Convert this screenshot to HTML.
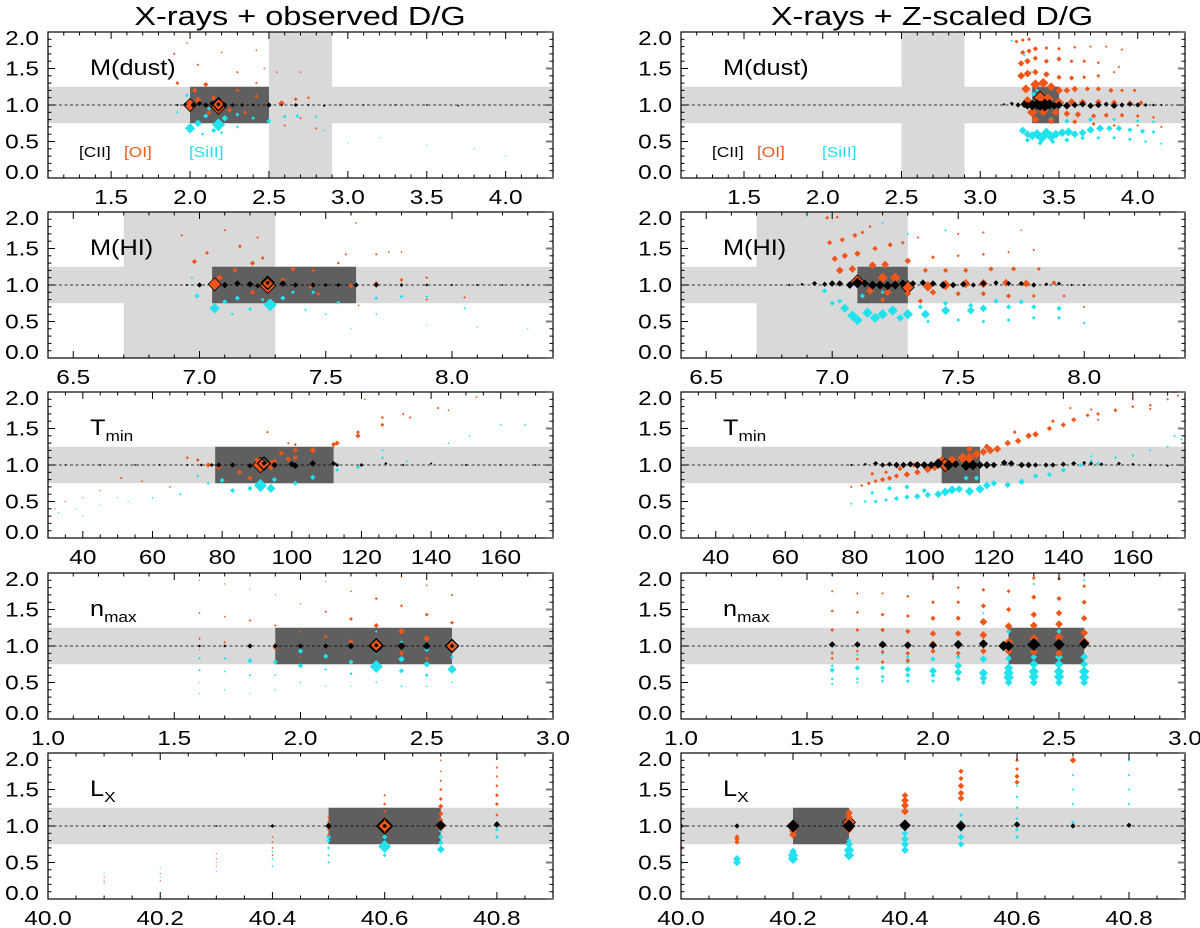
<!DOCTYPE html>
<html><head><meta charset="utf-8"><style>
html,body{margin:0;padding:0;background:#fff;}
svg{display:block;font-family:"Liberation Sans",Arial,sans-serif;}
</style></head><body>
<svg id="fig" width="1200" height="928" viewBox="0 0 1200 928" xmlns="http://www.w3.org/2000/svg">
<rect width="1200" height="928" fill="#fff"/>
</svg>
<script>
// ---------------- DATA ----------------
// each point: [x, ratio, markerSize]
const L1_cii=[[1.92,1.0,1],[1.97,1.01,1.5],[2.02,1.0,2],[2.06,1.02,2],[2.1,1.0,2],[2.14,1.02,2],[2.18,1.01,5],[2.22,1.0,2],[2.27,1.0,1.5],[2.33,1.0,1.5],[2.4,1.0,1.2],[2.5,1.0,2],[2.58,1.0,1],[2.67,1.0,1.5],[2.75,1.0,1],[2.85,0.99,1],[2.95,1.0,0.8],[3.1,1.0,0.8],[3.3,1.0,0.8],[3.5,1.0,0.8],[3.7,0.99,0.8]];
const L1_oi=[[2.0,1.0,5],[2.18,0.98,6],[1.92,1.3,1.5],[2.03,1.2,2],[2.05,1.07,2.5],[2.1,1.28,2],[2.12,0.9,2],[2.15,1.1,2],[2.2,1.05,2],[2.25,0.93,2],[2.3,1.2,1.5],[2.35,0.9,1.5],[2.42,1.12,1.5],[2.5,1.0,2],[2.58,1.02,2.5],[2.67,1.08,1.5],[2.75,1.1,1.2],[2.6,0.72,1],[2.7,0.82,1],[2.8,0.68,1],[1.9,1.7,1],[1.98,1.85,0.8],[2.05,1.55,1],[2.2,1.72,0.8],[2.3,1.45,1],[2.42,1.75,0.8],[2.42,1.3,1],[2.55,1.45,0.8],[2.7,1.45,0.8],[2.47,1.5,0.8]];
const L1_siii=[[2.0,0.68,4],[2.05,0.75,3],[2.18,0.73,5],[2.1,0.85,2],[2.15,0.65,2],[2.22,0.82,2.5],[2.3,0.87,1.5],[2.4,0.82,1.5],[2.5,0.78,2],[2.6,0.84,1.5],[2.68,0.85,1.5],[2.8,0.84,1.2],[1.98,1.13,1.5],[2.08,0.6,1.2],[2.2,0.62,1.2],[2.3,0.7,1.2],[2.12,0.95,1.5],[1.92,0.9,1],[2.85,0.65,0.8],[3.2,0.55,0.6],[3.5,0.45,0.6],[3.8,0.4,0.6],[4.0,0.3,0.6],[3.0,0.48,0.6]];

const R1_cii=[[3.15,1.01,1],[3.2,1.02,1.5],[3.24,1.0,2],[3.28,1.01,3],[3.3,0.99,3],[3.33,1.0,4],[3.36,1.01,4],[3.38,0.99,4],[3.41,1.0,5],[3.44,1.01,4],[3.47,0.99,3],[3.5,1.0,3],[3.55,0.99,3],[3.6,1.0,2.5],[3.65,1.01,2.5],[3.7,0.99,2.5],[3.75,1.0,2.5],[3.8,1.01,2],[3.85,0.99,2.5],[3.9,1.0,2],[3.95,1.01,2],[4.0,1.0,2],[4.05,1.0,1.5],[4.1,1.0,1.2],[4.15,1.0,1]];
const R1_oi=[[3.23,1.87,1.5],[3.27,1.89,1.5],[3.31,1.9,1.5],[3.27,1.72,2],[3.31,1.74,2],[3.35,1.77,2],[3.42,1.78,1.5],[3.5,1.77,1.5],[3.6,1.79,1.2],[3.7,1.8,1],[3.8,1.8,1],[3.9,1.76,1],[3.26,1.57,2.5],[3.3,1.6,2.5],[3.35,1.64,2],[3.42,1.6,2],[3.5,1.63,2],[3.58,1.6,1.5],[3.66,1.6,1.5],[3.75,1.58,1.2],[3.88,1.52,1],[3.26,1.4,3],[3.3,1.43,3],[3.35,1.45,2.5],[3.42,1.42,2.5],[3.5,1.38,2],[3.58,1.37,2],[3.66,1.38,1.5],[3.75,1.4,1.5],[3.85,1.45,1],[3.29,1.22,3.5],[3.35,1.28,4],[3.4,1.3,4],[3.45,1.25,3.5],[3.5,1.2,3],[3.55,1.2,2.5],[3.6,1.22,2.5],[3.68,1.22,2],[3.75,1.22,2],[3.83,1.2,2],[3.9,1.2,1.5],[3.98,1.2,1.5],[3.3,1.05,4],[3.38,1.1,5],[3.43,1.08,4.5],[3.5,1.03,4],[3.58,1.04,3],[3.65,1.03,3],[3.75,1.04,2.5],[3.85,1.03,2.5],[3.95,1.02,2.5],[4.02,1.03,2],[3.33,0.9,4],[3.4,0.92,4],[3.48,0.9,3],[3.55,0.88,2.5],[3.62,0.87,2.5],[3.72,0.85,2],[3.8,0.86,2],[3.9,0.86,1.8],[4.0,0.85,1.5],[4.1,0.83,1.2],[3.35,0.8,3],[3.45,0.78,2.5],[3.6,0.77,2],[3.72,0.74,1.5],[3.85,0.72,1.2],[4.0,0.72,1],[4.15,0.7,1]];
const R1_siii=[[3.2,1.88,1],[3.28,1.68,1],[3.32,1.45,1],[3.34,1.15,2],[3.36,1.2,1.5],[3.27,0.65,3],[3.3,0.6,3],[3.33,0.58,3.5],[3.36,0.6,4],[3.39,0.55,4],[3.42,0.62,4],[3.45,0.57,4],[3.48,0.6,3.5],[3.52,0.62,3.5],[3.56,0.63,3.5],[3.6,0.6,3],[3.65,0.62,3],[3.7,0.66,3],[3.76,0.68,3],[3.82,0.68,2.5],[3.88,0.68,2.5],[3.95,0.66,2],[4.03,0.64,2],[4.1,0.63,1.5],[3.3,0.52,2],[3.38,0.48,2],[3.46,0.5,2],[3.55,0.52,2],[3.65,0.55,1.8],[3.75,0.55,1.5],[3.85,0.55,1.5],[3.95,0.53,1.5],[4.05,0.5,1.2],[4.15,0.47,1],[3.45,0.8,2],[3.55,0.78,2],[3.7,0.8,2],[3.85,0.8,1.5],[4.0,0.78,1.5],[4.1,0.77,1.2]];

const L2_cii=[[6.95,1.0,1],[7.0,1.0,2],[7.1,1.0,2.5],[7.15,1.02,2.5],[7.2,1.01,2.5],[7.23,0.99,2],[7.27,1.03,5],[7.33,1.02,2.5],[7.38,1.0,2],[7.45,1.0,2],[7.5,1.0,1.5],[7.55,1.0,1.5],[7.62,1.0,2],[7.7,1.0,2],[7.8,1.0,1.5],[7.9,1.0,1.2],[8.0,1.0,1],[8.1,1.0,1],[8.2,1.0,0.8],[8.3,1.0,0.8]];
const L2_oi=[[7.06,1.01,5],[7.27,0.99,6],[6.93,1.68,1],[6.98,1.32,2],[7.03,1.44,1.5],[7.08,1.1,2.5],[7.1,1.75,1],[7.14,1.2,2],[7.16,1.53,1.5],[7.21,1.3,2],[7.23,1.65,1],[7.25,1.37,1.5],[7.21,0.9,2],[7.33,1.07,2],[7.37,1.22,2],[7.44,0.97,1.5],[7.45,1.2,1.5],[7.47,0.88,1.5],[7.55,1.3,1.2],[7.58,1.42,1],[7.6,0.99,2],[7.7,1.02,2],[7.7,1.42,1],[7.8,1.07,1.5],[7.9,1.1,1.2],[7.75,1.45,0.8],[7.62,1.85,0.8],[7.8,1.45,0.8],[8.05,0.83,1],[7.9,0.8,1],[7.63,0.72,0.8]];
const L2_siii=[[7.06,0.68,4],[7.28,0.73,5],[6.99,0.85,2],[7.1,0.77,2],[7.15,0.82,2],[7.2,0.67,1.5],[7.13,0.6,1.2],[7.25,0.8,1.5],[7.33,0.82,2],[7.37,0.9,1.5],[7.45,0.9,1.5],[7.55,0.76,1.5],[7.62,1.02,1.5],[7.7,0.82,1.5],[7.8,0.84,1.5],[7.9,0.84,1.2],[8.05,0.68,1],[6.97,1.1,1],[7.42,0.66,1],[7.5,0.6,0.8],[7.7,0.6,0.8],[7.9,0.45,0.6],[8.1,0.42,0.6],[8.3,0.4,0.6],[7.6,0.4,0.6]];

const R2_cii=[[6.83,1.0,1],[6.88,1.01,1.2],[6.93,1.02,2],[6.97,1.01,2],[7.0,1.02,2.5],[7.03,1.02,2.5],[7.07,1.0,3],[7.1,1.03,4],[7.13,1.02,3],[7.16,1.0,3.5],[7.19,1.0,3.5],[7.22,0.99,3.5],[7.25,1.0,3.5],[7.28,1.02,3],[7.32,1.02,2.5],[7.36,1.03,2.5],[7.4,1.02,2.5],[7.44,1.0,3],[7.48,1.0,2.5],[7.52,1.01,2.5],[7.56,1.0,2],[7.6,1.02,2.5],[7.65,1.03,2],[7.7,1.02,2],[7.75,1.02,2],[7.8,1.0,2],[7.85,1.01,1.5],[7.9,1.02,1.5],[7.95,1.0,1],[8.0,1.0,1]];
const R2_oi=[[7.1,1.05,5],[7.2,1.1,4],[7.25,1.1,4],[7.3,0.97,5],[7.38,0.98,4],[7.45,1.0,4],[7.53,1.02,3.5],[7.6,1.02,3.5],[7.69,1.03,3],[7.77,1.02,3],[7.88,1.03,2],[6.98,1.92,1.5],[7.02,1.93,1.2],[6.99,1.58,2],[7.04,1.62,2],[7.09,1.68,2],[7.12,1.72,1.5],[7.15,1.8,1.2],[7.01,1.36,2.5],[7.05,1.4,2.5],[7.1,1.43,2.5],[7.17,1.5,2],[7.23,1.55,2],[7.28,1.58,1.5],[7.34,1.65,1],[7.03,1.2,3],[7.08,1.22,3],[7.16,1.27,3],[7.21,1.28,3],[7.3,1.33,2.5],[7.37,1.2,2],[7.45,1.2,2],[7.53,1.2,2],[7.63,1.22,2],[7.72,1.22,2],[7.82,1.22,1.5],[7.4,1.38,1.5],[7.5,1.4,1.2],[7.6,1.42,1.2],[7.7,1.45,1],[7.8,1.48,1],[7.5,1.7,1],[7.6,1.72,1],[7.75,1.75,0.8],[7.15,0.92,3],[7.22,0.9,3],[7.3,0.88,2.5],[7.4,0.9,2.5],[7.5,0.88,2],[7.6,0.88,2],[7.7,0.85,2],[7.8,0.85,1.5],[7.92,0.85,1.2],[8.0,0.7,1],[7.2,0.8,2],[7.35,0.78,2]];
const R2_siii=[[6.93,1.03,1.5],[6.97,0.92,2],[7.0,0.75,2],[7.03,0.78,2],[7.05,0.68,3.5],[7.08,0.58,4],[7.1,0.52,4],[7.14,0.62,4],[7.17,0.55,4],[7.2,0.6,4],[7.24,0.65,4],[7.27,0.55,3],[7.3,0.6,4],[7.37,0.6,3.5],[7.45,0.65,3.5],[7.55,0.65,3],[7.6,0.68,3],[7.7,0.7,2],[7.8,0.7,2],[7.9,0.68,2],[7.35,0.7,2],[7.45,0.75,2],[7.55,0.72,2],[7.65,0.78,2],[7.75,0.77,2],[7.38,0.5,1.5],[7.5,0.52,1.5],[7.6,0.5,1.5],[7.7,0.52,1.5],[7.8,0.55,1.5],[7.9,0.55,1.5],[8.0,0.48,1.2],[7.12,0.85,2],[7.2,0.9,1.5],[7.3,1.7,1],[7.45,1.75,1],[7.2,1.85,1],[6.9,1.95,1]];

const L3_cii=[[35,1.0,0.8],[45,1.0,0.8],[55,1.0,0.8],[62,1.0,0.8],[70,1.0,1],[74,1.0,1.2],[77,1.0,1.5],[79,1.0,2],[83,1.0,2],[88,0.99,2],[92,1.02,5],[95,1.0,2.5],[100,1.01,2.5],[101,0.99,2.5],[106,1.02,2.5],[112,1.02,2],[113,1.0,1.5],[120,1.0,1.5],[127,1.02,1.2],[132,1.0,1],[140,1.02,1],[150,1.0,1],[160,1.0,0.8],[170,1.0,0.8]];
const L3_oi=[[91,1.0,6],[94,1.0,4],[70,1.1,1.2],[73,1.07,1.5],[76,1.0,2],[79,0.97,2],[85,0.9,2],[88,0.82,2],[90,1.07,2],[95,1.05,2],[97,1.16,2],[99,1.08,2],[101,1.1,2],[101,1.2,2],[101,1.28,1.2],[106,1.2,2.5],[112,1.28,2],[113,1.3,2],[119,1.4,2],[119,1.45,1.5],[126,1.55,1.5],[126,1.65,1.2],[132,1.7,1],[134,1.65,1],[142,1.78,1],[145,1.75,0.8],[153,1.93,0.8],[121,1.9,0.8],[93,1.45,1],[99,1.3,1],[51,0.82,1],[57,0.78,0.8],[65,0.7,0.8],[45,0.65,0.6],[40,0.55,0.6],[35,0.5,0.6],[32,0.4,0.6]];
const L3_siii=[[91,0.72,5],[94,0.68,3.5],[80,0.79,2],[83,0.65,2],[88,0.68,2],[95,0.8,2],[101,0.75,2],[106,0.83,2],[113,0.93,1.5],[119,0.97,1.5],[126,1.1,1.2],[126,1.2,1],[133,1.05,1],[145,1.3,0.8],[151,1.4,0.8],[160,1.55,0.8],[167,1.55,0.8],[73,0.85,1.2],[76,0.75,1.2],[68,0.6,1],[60,0.55,0.8],[53,0.5,0.6],[45,0.45,0.6],[38,0.4,0.6],[33,0.35,0.6],[40,0.3,0.6],[50,0.55,0.6]];

const R3_cii=[[79,1.0,1],[83,1.01,1.2],[86,1.02,2],[88,1.0,2],[90,1.01,2],[92,1.0,2.5],[94,1.0,2.5],[96,1.01,2.5],[98,1.0,3],[100,1.0,3],[102,1.0,3],[104,1.02,4],[107,1.0,4],[109,1.01,3],[112,0.99,4],[114,1.0,4],[116,1.0,3],[118,1.0,3],[120,1.0,2.5],[123,1.03,2.5],[125,1.02,2.5],[128,1.0,2.5],[130,1.0,2.5],[132,1.0,2],[135,1.0,2],[137,1.0,2],[140,1.01,2],[143,1.02,2],[146,1.03,1.5],[148,1.02,1.5],[151,1.01,1.5],[156,1.02,1.5],[160,1.01,1.2],[165,1.0,1.2],[170,0.99,1],[174,1.0,1]];
const R3_oi=[[79,0.7,1],[82,0.72,1.2],[84,0.75,1.5],[86,0.78,1.5],[88,0.8,2],[90,0.82,2],[92,0.85,2],[95,0.87,2.5],[98,0.9,2.5],[101,0.94,3],[103,0.97,3],[105,1.05,4],[106,1.0,5],[108,1.07,3.5],[111,1.1,4],[113,1.1,4],[115,1.15,3.5],[117,1.18,3],[119,1.2,3],[121,1.22,3],[124,1.3,2.5],[127,1.33,2.5],[130,1.4,2.5],[132,1.42,2.5],[136,1.5,2],[140,1.55,2],[143,1.62,2],[147,1.68,1.5],[150,1.7,1.5],[155,1.75,1.5],[160,1.8,1.2],[165,1.82,1.2],[170,1.9,1],[173,1.95,1],[85,0.88,1.5],[89,0.9,1.5],[93,0.95,2],[97,1.0,2],[113,1.22,2.5],[118,1.25,2.5],[126,1.45,1.5],[137,1.6,1.5],[142,1.78,1],[148,1.76,1],[160,1.9,1],[165,1.77,1],[172,2.0,1],[150,1.62,1]];
const R3_siii=[[79,0.47,1],[83,0.5,1.2],[86,0.5,1.5],[89,0.52,1.5],[92,0.54,2],[95,0.56,2],[98,0.57,2.5],[101,0.59,2.5],[104,0.6,3],[106,0.63,3.5],[108,0.66,3.5],[110,0.67,3],[113,0.64,3.5],[116,0.67,3.5],[118,0.72,3],[120,0.75,2.5],[124,0.73,2.5],[128,0.77,2.5],[132,0.85,2],[136,0.87,2],[140,0.93,2],[145,1.0,1.5],[148,1.05,1.5],[150,1.02,1.5],[155,1.1,1.2],[160,1.13,1.2],[165,1.2,1],[170,1.25,1],[174,1.35,1],[112,0.82,2],[115,0.82,2],[85,0.62,1.5],[90,0.68,2],[95,0.7,2],[100,0.65,2],[148,1.12,1],[172,1.4,1]];

const L4_cii=[[1.6,1.0,1.2],[1.7,1.0,1.2],[1.8,1.0,2],[1.9,1.0,2],[2.0,1.0,2],[2.1,1.0,2],[2.2,1.0,2.5],[2.3,1.01,5],[2.4,1.0,3],[2.5,1.0,3],[2.6,1.0,5]];
const L4_oi=[[1.6,1.1,1],[1.6,1.45,0.8],[1.6,1.9,0.6],[1.6,0.95,0.6],[1.7,1.05,1],[1.7,1.4,0.8],[1.7,1.85,0.6],[1.8,1.0,1.5],[1.8,1.35,1],[1.8,1.78,0.6],[1.9,0.98,2],[1.9,1.28,1],[1.9,1.7,0.6],[2.0,1.2,1],[2.0,1.58,0.6],[2.0,0.85,0.8],[2.1,1.13,1.5],[2.1,1.47,1],[2.1,1.88,0.6],[2.2,1.06,2],[2.2,1.37,1.5],[2.2,1.75,0.8],[2.3,1.0,5.5],[2.3,1.28,2],[2.3,1.65,1.2],[2.3,2.0,0.8],[2.4,1.2,2.5],[2.4,0.9,2],[2.4,1.55,1.2],[2.4,1.95,0.8],[2.5,1.1,2.5],[2.5,0.83,1.5],[2.5,1.43,1.5],[2.5,1.83,0.8],[2.6,1.0,4],[2.6,1.32,1.5],[2.6,1.7,1]];
const L4_siii=[[1.6,0.83,1.2],[1.6,0.67,1],[1.6,0.5,0.6],[1.6,0.35,0.6],[1.7,0.83,1.2],[1.7,0.65,0.8],[1.7,0.4,0.6],[1.8,0.8,2],[1.8,0.6,1],[1.8,0.35,0.6],[1.9,0.78,2],[1.9,1.0,1.5],[1.9,0.6,0.8],[1.9,0.4,0.6],[2.0,0.93,2],[2.0,0.73,2],[2.0,0.5,0.8],[2.1,0.86,2],[2.1,0.68,1],[2.1,0.45,0.6],[2.2,0.78,2],[2.2,0.62,1.2],[2.2,1.0,1.5],[2.2,0.45,0.6],[2.3,0.72,5],[2.3,0.92,2],[2.3,1.2,1],[2.3,0.5,0.8],[2.4,0.82,2.5],[2.4,0.66,2],[2.4,1.05,1.5],[2.4,0.45,0.8],[2.5,0.75,2.5],[2.5,0.95,2],[2.5,0.6,1.5],[2.5,0.45,0.8],[2.6,0.68,3.5],[2.6,0.85,1.5],[2.6,0.5,0.8]];

const R4_cii=[[1.6,1.02,2.5],[1.7,1.02,2.5],[1.8,1.02,3],[1.9,1.01,3],[2.0,1.01,3],[2.1,1.02,3.5],[2.2,1.03,3.5],[2.28,1.0,4],[2.3,1.0,4],[2.4,1.02,5],[2.5,1.02,4.5],[2.6,1.03,4]];
const R4_oi=[[1.6,0.83,1.2],[1.6,0.9,1.2],[1.6,1.22,1.5],[1.6,1.48,1.2],[1.6,1.75,1],[1.6,1.98,0.8],[1.7,0.82,1.2],[1.7,0.93,1.2],[1.7,1.22,1.5],[1.7,1.46,1.2],[1.7,1.72,1],[1.8,0.78,1.5],[1.8,0.92,1.5],[1.8,1.22,1.8],[1.8,1.43,1.5],[1.8,1.72,1],[1.9,0.8,1.8],[1.9,0.9,1.8],[1.9,1.2,2],[1.9,1.41,1.5],[1.9,1.68,1.2],[1.9,2.0,0.8],[2.0,0.93,2],[2.0,1.03,2.5],[2.0,1.17,2.5],[2.0,1.38,2],[2.0,1.6,1.5],[2.0,1.95,1],[2.1,0.9,2],[2.1,1.17,2.5],[2.1,1.38,2],[2.1,1.6,1.5],[2.1,1.8,1.2],[2.2,0.93,2.5],[2.2,1.15,3],[2.2,1.33,3],[2.2,1.55,2],[2.2,1.77,1.5],[2.3,0.93,3],[2.3,1.05,3.5],[2.3,1.27,3],[2.3,1.5,2],[2.3,1.75,1.5],[2.3,2.0,1],[2.4,0.92,3],[2.4,1.1,3.5],[2.4,1.28,3],[2.4,1.43,2.5],[2.4,1.67,2],[2.4,1.93,1.5],[2.5,0.9,3],[2.5,1.12,3.5],[2.5,1.3,3],[2.5,1.45,2.5],[2.5,1.65,2],[2.5,1.92,1.5],[2.6,1.05,4],[2.6,1.18,3],[2.6,1.38,2.5],[2.6,1.6,2],[2.6,1.82,1.5],[2.6,1.98,1]];
const R4_siii=[[1.6,0.73,1.2],[1.6,0.67,2],[1.6,0.55,1.2],[1.6,0.48,1],[1.6,0.92,1],[1.7,0.7,2],[1.7,0.55,1.2],[1.7,0.5,1],[1.7,0.88,1],[1.8,0.7,2],[1.8,0.58,1.5],[1.8,0.52,1.2],[1.8,0.9,1.2],[1.9,0.68,2.5],[1.9,0.6,2],[1.9,0.52,1.5],[1.9,0.85,1.5],[1.9,0.78,1.5],[2.0,0.66,3],[2.0,0.6,2],[2.0,0.52,1.5],[2.0,0.82,2],[2.1,0.73,3],[2.1,0.64,3],[2.1,0.55,2],[2.1,0.85,2],[2.1,1.05,2],[2.2,0.82,3],[2.2,0.63,3.5],[2.2,0.56,3],[2.2,0.5,2],[2.2,1.15,2],[2.2,1.45,1],[2.3,0.7,3.5],[2.3,0.63,4],[2.3,0.57,4],[2.3,0.5,3],[2.3,0.83,2.5],[2.3,1.2,2],[2.3,1.75,1],[2.4,0.75,3.5],[2.4,0.65,4],[2.4,0.58,4],[2.4,0.5,3],[2.4,0.85,2.5],[2.4,1.0,3],[2.4,1.28,2],[2.4,1.85,1],[2.5,0.75,3.5],[2.5,0.65,4],[2.5,0.58,4],[2.5,0.5,3],[2.5,0.85,3],[2.5,1.2,2],[2.5,1.93,1],[2.6,0.75,3],[2.6,0.65,4],[2.6,0.57,4],[2.6,0.5,3],[2.6,0.85,3],[2.6,1.9,1]];

const L5_cii=[[40.1,1.0,0.8],[40.3,1.0,0.8],[40.4,1.0,1.5],[40.5,1.0,2.5],[40.6,1.0,6],[40.7,1.01,4],[40.8,1.02,2.5]];
const L5_oi=[[40.1,0.22,0.6],[40.1,0.3,0.6],[40.2,0.25,0.6],[40.2,0.35,0.6],[40.3,0.45,0.6],[40.3,0.55,0.6],[40.3,0.62,0.6],[40.4,0.6,0.8],[40.4,0.7,0.8],[40.4,0.78,0.8],[40.4,0.85,0.8],[40.5,0.88,1.2],[40.5,0.95,1.2],[40.5,1.05,1.2],[40.5,1.12,1],[40.6,1.0,5],[40.6,1.1,1.5],[40.6,1.2,1.2],[40.6,1.3,1.2],[40.6,1.42,1],[40.6,0.9,1.5],[40.7,1.0,4],[40.7,1.08,2],[40.7,1.17,2],[40.7,1.27,2],[40.7,1.37,1.5],[40.7,1.5,1.2],[40.7,1.62,1],[40.7,1.75,0.8],[40.7,1.9,0.8],[40.8,1.15,1.2],[40.8,1.3,1.5],[40.8,1.42,1.5],[40.8,1.55,1.2],[40.8,1.68,1],[40.8,1.8,1],[40.8,1.92,0.8]];
const L5_siii=[[40.1,0.25,0.6],[40.1,0.35,0.6],[40.2,0.3,0.6],[40.2,0.42,0.6],[40.3,0.38,0.6],[40.3,0.5,0.6],[40.4,0.45,0.8],[40.4,0.55,0.8],[40.4,0.65,0.8],[40.5,0.5,1],[40.5,0.6,1],[40.5,0.7,1.2],[40.5,0.8,1.5],[40.5,0.85,2],[40.6,0.72,5],[40.6,0.6,1.5],[40.6,0.85,2],[40.7,0.68,3],[40.7,0.77,2],[40.7,0.85,2],[40.7,0.93,1.5],[40.8,0.85,1.5],[40.8,0.95,1.5],[40.8,1.05,1.2]];

const R5_cii=[[40.0,1.0,2],[40.1,1.0,2],[40.2,1.0,5],[40.3,1.0,5],[40.4,1.01,4.5],[40.5,1.0,4],[40.6,1.02,2.5],[40.7,1.0,2],[40.8,1.01,2]];
const R5_oi=[[40.0,0.7,2],[40.1,0.78,2],[40.1,0.85,2],[40.1,0.82,2],[40.2,0.93,3],[40.2,0.88,3],[40.2,0.97,3],[40.3,1.05,5],[40.3,1.12,3],[40.3,1.18,3],[40.3,0.95,3],[40.4,1.2,3],[40.4,1.28,3],[40.4,1.35,3],[40.4,1.42,2.5],[40.5,1.38,2.5],[40.5,1.45,2.5],[40.5,1.55,2.5],[40.5,1.65,2],[40.5,1.75,2],[40.6,1.6,2],[40.6,1.68,2],[40.6,1.78,1.5],[40.6,1.9,1.5],[40.6,2.0,1],[40.7,1.9,2.5],[40.7,2.0,1]];
const R5_siii=[[40.0,0.5,2],[40.1,0.5,3],[40.1,0.55,3],[40.2,0.55,4],[40.2,0.6,4],[40.2,0.65,3],[40.3,0.6,4],[40.3,0.67,4],[40.3,0.75,3],[40.3,0.8,2],[40.4,0.67,3],[40.4,0.75,3],[40.4,0.82,3],[40.4,0.9,2.5],[40.5,0.75,2.5],[40.5,0.85,2.5],[40.5,0.95,2],[40.5,1.05,2],[40.5,1.15,1.5],[40.6,0.85,1.5],[40.6,0.95,1.5],[40.6,1.1,1.2],[40.6,1.25,1.2],[40.6,1.4,1.2],[40.6,1.55,1],[40.7,1.05,1.5],[40.7,1.3,1],[40.7,1.5,1],[40.7,1.7,1],[40.8,1.3,1],[40.8,1.5,1],[40.8,1.7,1],[40.8,1.9,1]];

// row x ranges, ticks, shaded regions (data units)
const rowXRange=[[1.1,4.3],[6.4,8.4],[30,175],[1.0,3.0],[40.0,40.9]];
const rowMajor=[[1.5,2.0,2.5,3.0,3.5,4.0],[6.5,7.0,7.5,8.0],[40,60,80,100,120,140,160],[1.0,1.5,2.0,2.5,3.0],[40.0,40.2,40.4,40.6,40.8]];
const rowMajorLabels=[["1.5","2.0","2.5","3.0","3.5","4.0"],["6.5","7.0","7.5","8.0"],["40","60","80","100","120","140","160"],["1.0","1.5","2.0","2.5","3.0"],["40.0","40.2","40.4","40.6","40.8"]];
const rowMinorStep=[0.1,0.1,5,0.1,0.05];
const rowVBand=[[2.5,2.9],[6.7,7.3],null,null,null];
const leftBox=[[2.0,2.5],[7.05,7.62],[78,112],[1.9,2.6],[40.5,40.7]];
const rightBox=[[3.33,3.5],[7.1,7.3],[105,116],[2.3,2.6],[40.2,40.3]];
const rowLabels=[["M(dust)",""],["M(HI)",""],["T","min"],["n","max"],["L","X"]];
const yTicks=[0,0.5,1.0,1.5,2.0];
const yTickLabels=["0.0","0.5","1.0","1.5","2.0"];
const leftSeries=[[L1_cii,L1_oi,L1_siii],[L2_cii,L2_oi,L2_siii],[L3_cii,L3_oi,L3_siii],[L4_cii,L4_oi,L4_siii],[L5_cii,L5_oi,L5_siii]];
const rightSeries=[[R1_cii,R1_oi,R1_siii],[R2_cii,R2_oi,R2_siii],[R3_cii,R3_oi,R3_siii],[R4_cii,R4_oi,R4_siii],[R5_cii,R5_oi,R5_siii]];

// ---------------- DRAWING ----------------
const NS="http://www.w3.org/2000/svg";
const svg=document.getElementById('fig');
const OI="#f0561a", SI="#22e2ee", GREY="#d9d9d9", DARK="#5f5f5f";
const colX=[[48,553],[681,1185]];
const rowTop=[32,212,392,573,753], PH=146;
function mk(tag,attrs,parent){const e=document.createElementNS(NS,tag);for(const k in attrs)e.setAttribute(k,attrs[k]);(parent||svg).appendChild(e);return e;}
function txt(parent,x,y,s,size,anchor,sx,fill){const t=mk('text',{transform:`translate(${x},${y}) scale(${sx},1)`,'font-size':size,'text-anchor':anchor,fill:fill||'#000'},parent);t.textContent=s;return t;}

function drawPanel(r,c){
  const [xl,xr]=colX[c], top=rowTop[r], bot=top+PH;
  const [x0,x1]=rowXRange[r];
  const sx=v=>xl+(v-x0)/(x1-x0)*(xr-xl);
  const sy=v=>bot-(v/2)*PH;
  const g=mk('g',{});
  
  
  const clip=mk('clipPath',{id:`cp${r}${c}`},g);
  mk('rect',{x:xl,y:top,width:xr-xl,height:PH},clip);
  const inner=mk('g',{'clip-path':`url(#cp${r}${c})`},g);
  const hb=mk('rect',{x:xl,y:sy(1.25),width:xr-xl,height:sy(0.75)-sy(1.25),fill:GREY},inner);
  
  
  if(rowVBand[r]){const vb=mk('rect',{x:sx(rowVBand[r][0]),y:top,width:sx(rowVBand[r][1])-sx(rowVBand[r][0]),height:PH,fill:GREY},inner);
    
    }
  const b=(c?rightBox:leftBox)[r];
  const db=mk('rect',{x:sx(b[0]),y:sy(1.25),width:sx(b[1])-sx(b[0]),height:sy(0.75)-sy(1.25),fill:DARK},inner);
  
  
  const dl=mk('line',{x1:xl,x2:xr,y1:sy(1),y2:sy(1),stroke:'#000','stroke-width':0.8,'stroke-dasharray':'3,2.5'},inner);
  
  
  const ser=(c?rightSeries:leftSeries)[r];
  const order=[[2,SI,'siii-points'],[1,OI,'oi-points'],[0,'#000','cii-points']];
  for(const [i,col,nm] of order){
    const sg=mk('g',{},inner);
    
    
    for(const p of ser[i]){
      const cx=sx(p[0]),cy=sy(p[1]),s=p[2]*1.3;
      const pts=`${cx},${cy-s} ${cx+s},${cy} ${cx},${cy+s} ${cx-s},${cy}`;
      let d;
      if(i===0&&p[2]>=5&&c===0){ d=mk('polygon',{points:pts,fill:'none',stroke:'#000','stroke-width':1.3},sg);
        mk('circle',{cx:cx,cy:cy,r:1.8,fill:'#000'},sg);}
      else d=mk('polygon',{points:pts,fill:col,stroke:(i===1&&p[2]>=5)?'#000':'none','stroke-width':0.8},sg);
      
      
    }
  }
  mk('rect',{x:xl,y:top,width:xr-xl,height:PH,fill:'none',stroke:'#000','stroke-width':1.2},g);
  const st=rowMinorStep[r];
  for(let k=Math.ceil(x0/st-1e-6);k*st<=x1+1e-9;k++){
    const v=k*st, X=sx(v);
    const isMaj=rowMajor[r].some(m=>Math.abs(m-v)<1e-6);
    const L=isMaj?7:3.5;
    mk('line',{x1:X,x2:X,y1:bot,y2:bot-L,stroke:'#000','stroke-width':1},g);
    mk('line',{x1:X,x2:X,y1:top,y2:top+L,stroke:'#000','stroke-width':1},g);
  }
  rowMajor[r].forEach((v,i)=>{const t=txt(g,sx(v),bot+26,rowMajorLabels[r][i],20,'middle',1.22);
    
    });
  for(let k=0;k<=20;k++){const v=k*0.1,Y=sy(v);const maj=k%5===0;const L=maj?7:3.5;
    mk('line',{x1:xl,x2:xl+L,y1:Y,y2:Y,stroke:'#000','stroke-width':1},g);
    mk('line',{x1:xr,x2:xr-L,y1:Y,y2:Y,stroke:maj?'#777':'#000','stroke-width':maj?2:1},g);}
  yTicks.forEach((v,i)=>{let Y=sy(v)+7;if(v===2)Y+=6;if(v===0)Y-=6;
    const t=txt(g,xl-9,Y,yTickLabels[i],20,'end',1.22);
    
    });
  const lx=xl+42, ly=top+43;
  const lab=txt(g,lx,ly,rowLabels[r][0],22,'start',1.15);
  
  
  if(rowLabels[r][1]){const ts=mk('tspan',{'font-size':15,dy:6},lab);ts.textContent=rowLabels[r][1];}
  if(r===0){
    const lg=[["[CII]",'#000',31],["[OI]",OI,76],["[SiII]",SI,141]];
    for(const [s,col,dx] of lg){const t=txt(g,xl+dx,top+125,s,15,'start',1.15,col);
      
      }
  }
}
for(let r=0;r<5;r++)for(let c=0;c<2;c++)drawPanel(r,c);
const t1=txt(svg,300,25,"X-rays + observed D/G",26,'middle',1.25);


const t2=txt(svg,932,25,"X-rays + Z-scaled D/G",26,'middle',1.25);


</script>
</body></html>
